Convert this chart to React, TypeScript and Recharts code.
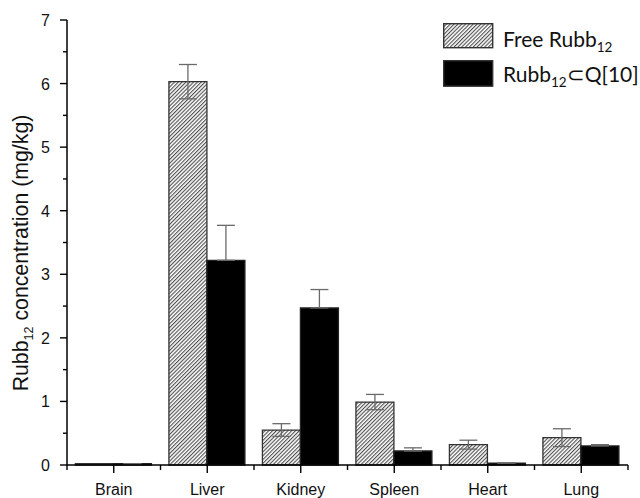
import React from 'react';
import { BarChart, Bar, XAxis, YAxis, ErrorBar } from 'recharts';

const organs = ['Brain', 'Liver', 'Kidney', 'Spleen', 'Heart', 'Lung'];
const freeValues = [0.02, 6.03, 0.55, 0.99, 0.32, 0.43];
const freeErrors = [0, 0.27, 0.1, 0.12, 0.07, 0.14];
const cqValues = [0.02, 3.22, 2.47, 0.22, 0.03, 0.3];
const cqErrors = [0, 0.55, 0.29, 0.05, 0, 0.02];
const yTicks = [0, 0.5, 1, 1.5, 2, 2.5, 3, 3.5, 4, 4.5, 5, 5.5, 6, 6.5, 7];

const data = organs.map((organ, i) => ({
  organ,
  free: freeValues[i],
  freeErr: freeErrors[i],
  cq: cqValues[i],
  // the lower whisker is hidden inside the black bar in the original
  cqErr: [0, cqErrors[i]],
}));

const FONT = '"Liberation Sans", Arial, sans-serif';

const HatchDef = ({ id }: { id: string }) => (
  <defs>
    <pattern id={id} patternUnits="userSpaceOnUse" width={2.7} height={2.7} patternTransform="rotate(45)">
      <rect x={0} y={0} width={2.7} height={2.7} fill="#ffffff" />
      <line x1={0.6} y1={0} x2={0.6} y2={2.7} stroke="#3a3a3a" strokeWidth={1.0} />
    </pattern>
  </defs>
);

const YTick = (props: any) => {
  const { x, y, payload } = props;
  const v = payload.value;
  const major = Math.abs(v - Math.round(v)) < 1e-6;
  return (
    <g>
      <line x1={x} y1={y} x2={x - (major ? 7 : 4)} y2={y} stroke="#000" strokeWidth={1.4} />
      {major && (
        <text x={x - 17} y={y + 6} textAnchor="end" fontFamily={FONT} fontSize={16} fill="#111">
          {v}
        </text>
      )}
    </g>
  );
};

const XTick = (props: any) => {
  const { x, y, payload, width, visibleTicksCount, index } = props;
  const band = width / visibleTicksCount;
  return (
    <g>
      <line x1={x} y1={y} x2={x} y2={y + 8} stroke="#000" strokeWidth={1.4} />
      <line x1={x - band / 2} y1={y} x2={x - band / 2} y2={y + 5} stroke="#000" strokeWidth={1.4} />
      {index === visibleTicksCount - 1 && (
        <line x1={x + band / 2} y1={y} x2={x + band / 2} y2={y + 5} stroke="#000" strokeWidth={1.4} />
      )}
      <text x={x} y={y + 30} textAnchor="middle" fontFamily={FONT} fontSize={16} fill="#111">
        {payload.value}
      </text>
    </g>
  );
};

const YLabel = () => (
  <text
    x={28}
    y={253}
    transform="rotate(-90 28 253)"
    textAnchor="middle"
    fontFamily={FONT}
    fontSize={21.3}
    fill="#111"
  >
    Rubb
    <tspan fontSize={12.5} dy={5}>12</tspan>
    <tspan dy={-5}> concentration (mg/kg)</tspan>
  </text>
);

const LEG_FONT = 'Lato, "Open Sans", sans-serif';

const LegendBox = () => (
  <svg
    width={197}
    height={70}
    style={{ position: 'absolute', left: 443, top: 23, display: 'block', overflow: 'visible' }}
  >
    <HatchDef id="hatchLegend" />
    <rect x={0.7} y={0.7} width={49} height={24} fill="url(#hatchLegend)" stroke="#333" strokeWidth={1.4} />
    <rect x={0.7} y={37.7} width={49} height={25.5} fill="#000" stroke="#333" strokeWidth={1.4} />
    <text x={60} y={24} fontFamily={LEG_FONT} fontSize={21} fill="#111">
      Free Rubb<tspan fontSize={13.5} dy={5}>12</tspan>
    </text>
    <text x={60} y={59} fontFamily={LEG_FONT} fontSize={21} fill="#111">
      Rubb<tspan fontSize={13.5} dy={5}>12</tspan>
      <tspan dy={-5}>⊂Q[10]</tspan>
    </text>
  </svg>
);

export default function App() {
  return (
    <div style={{ position: 'absolute', left: 0, top: 0, width: 640, height: 498, background: '#fff' }}>
      <BarChart
        width={640}
        height={498}
        data={data}
        margin={{ top: 20, right: 12, bottom: 0, left: 0 }}
        barCategoryGap="9%"
        barGap={0}
      >
        <HatchDef id="hatchMain" />
        <XAxis
          dataKey="organ"
          height={33}
          tickSize={0}
          tickMargin={0}
          tickLine={false}
          axisLine={{ stroke: '#000', strokeWidth: 1.5 }}
          tick={<XTick />}
          interval={0}
        />
        <YAxis
          width={67}
          domain={[0, 7]}
          ticks={yTicks}
          interval={0}
          tickSize={0}
          tickMargin={0}
          tickLine={false}
          axisLine={{ stroke: '#000', strokeWidth: 1.5 }}
          tick={<YTick />}
          label={{ content: <YLabel /> }}
        />
        <Bar dataKey="free" fill="url(#hatchMain)" stroke="#333" strokeWidth={1.3} isAnimationActive={false}>
          <ErrorBar dataKey="freeErr" width={9} stroke="#6a6a6a" strokeWidth={1.3} direction="y" />
        </Bar>
        <Bar dataKey="cq" fill="#000" stroke="#222" strokeWidth={1.3} isAnimationActive={false}>
          <ErrorBar dataKey="cqErr" width={9} stroke="#6a6a6a" strokeWidth={1.3} direction="y" />
        </Bar>
      </BarChart>
      <LegendBox />
    </div>
  );
}
